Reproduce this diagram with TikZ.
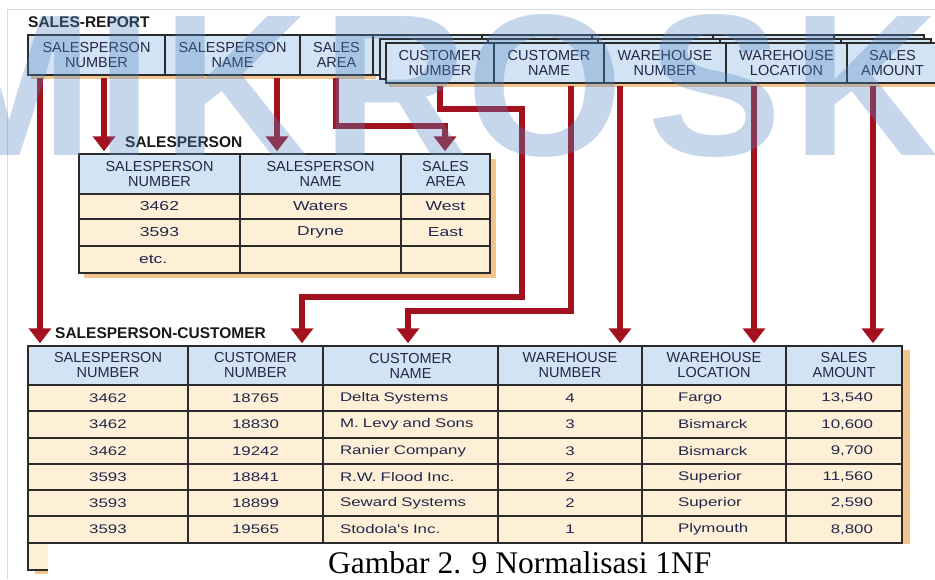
\documentclass[tikz,border=0pt]{standalone}
\usepackage{fontspec}
\setmainfont{Liberation Sans}
\newfontfamily\capfont{Liberation Serif}
\newfontfamily\datafont[FakeStretch=1.35]{Liberation Sans}
\usetikzlibrary{arrows.meta}

\definecolor{hblue}{HTML}{D2E3F4}
\definecolor{rowtan}{HTML}{FDF0D6}
\definecolor{shadowc}{HTML}{F2C58C}
\definecolor{gridc}{HTML}{2B2B2B}
\definecolor{inkc}{HTML}{23264A}
\definecolor{redc}{HTML}{A3101E}
\definecolor{markc}{HTML}{5487C3}
\definecolor{framec}{HTML}{DADADA}

% one table cell spanning (x0,y0)--(x1,y1)
\newcommand\tcell[7][]{%
  \node[minimum width={#5-#3}, minimum height={#6-#4}, #1] (#2) at ({(#3+#5)/2},{(#4+#6)/2}) {#7};}

\tikzset{
  cellbase/.style={draw=gridc, line width=1.5pt, inner sep=0pt, align=center, text=inkc},
  hcell/.style={cellbase, fill=hblue, font=\fontsize{14.5}{15}\selectfont},
  dcell/.style={cellbase, fill=rowtan, font=\datafont\fontsize{13}{15}\selectfont},
  bcell/.style={cellbase, fill=rowtan, font=\datafont\fontsize{12.5}{15}\selectfont},
  padl/.style 2 args={inner xsep=#1, text width=#2, align=left},
  padr/.style 2 args={inner xsep=#1, text width=#2, align=right},
  ttl/.style={anchor=base west, inner sep=0pt, font=\bfseries\fontsize{15.5}{16}\selectfont, text=black!90},
  link/.style={draw=redc, line width=6.5pt, -{Triangle[width=22pt,length=15pt]}, shorten >=2pt, shorten <=2pt},
  wm/.style={text=markc, text opacity=0.33, inner sep=0pt, anchor=base, font=\bfseries\fontsize{202}{202}\selectfont},
}

\begin{document}
\begin{tikzpicture}[x=1pt, y=-1pt]
\useasboundingbox (0,0) rectangle (935,579);
\clip (0,0) rectangle (935,579);
\fill[white] (0,0) rectangle (935,579);
\draw[framec, line width=1pt] (7.5,579) -- (7.5,9.5) -- (935,9.5);

% ---------- SALES-REPORT ----------
\node[ttl] (tSR) at (28,27) {SALES-REPORT};
\fill[shadowc] (31,38) rectangle (376,78.5);
\fill[shadowc] (389,46) rectangle (941,87);
\tcell[hcell]{srNum}{28}{35}{165}{75}{SALESPERSON\\NUMBER}
\tcell[hcell]{srName}{165}{35}{300}{75}{SALESPERSON\\NAME}
\tcell[hcell]{srArea}{300}{35}{373}{75}{SALES\\AREA}
% repeating group, stacked pages
\tcell[hcell]{bk1}{373}{35}{482}{75}{}
\tcell[hcell]{bk2}{482}{35}{592}{75}{}
\tcell[hcell]{bk3}{592}{35}{713}{75}{}
\tcell[hcell]{bk4}{713}{35}{834}{75}{}
\tcell[hcell]{bk5}{834}{35}{924}{75}{}
\tcell[hcell]{md1}{380}{39}{488}{79}{}
\tcell[hcell]{md2}{488}{39}{598}{79}{}
\tcell[hcell]{md3}{598}{39}{720}{79}{}
\tcell[hcell]{md4}{720}{39}{841}{79}{}
\tcell[hcell]{md5}{841}{39}{931}{79}{}
\tcell[hcell]{fCNum}{386}{43}{494}{83}{CUSTOMER\\NUMBER}
\tcell[hcell]{fCName}{494}{43}{604}{83}{CUSTOMER\\NAME}
\tcell[hcell]{fWNum}{604}{43}{726}{83}{WAREHOUSE\\NUMBER}
\tcell[hcell]{fWLoc}{726}{43}{847}{83}{WAREHOUSE\\LOCATION}
\tcell[hcell]{fSAmt}{847}{43}{938}{83}{SALES\\AMOUNT}

% ---------- SALESPERSON ----------
\node[ttl] (tSP) at (125,147) {SALESPERSON};
\fill[shadowc] (84,159) rectangle (495.5,278);
\tcell[hcell]{spNum}{79}{154}{240}{194}{SALESPERSON\\NUMBER}
\tcell[hcell]{spName}{240}{154}{401}{194}{SALESPERSON\\NAME}
\tcell[hcell]{spArea}{401}{154}{490}{194}{SALES\\AREA}
\tcell[dcell]{sp1a}{79}{194}{240}{219}{3462}
\tcell[dcell]{sp1b}{240}{194}{401}{219}{Waters}
\tcell[dcell]{sp1c}{401}{194}{490}{219}{West}
\tcell[dcell]{sp2a}{79}{219}{240}{246}{3593}
\tcell[dcell]{sp2b}{240}{219}{401}{246}{Dryne}
\tcell[dcell]{sp2c}{401}{219}{490}{246}{East}
\tcell[dcell, padl={60pt}{41pt}]{sp3a}{79}{246}{240}{273}{etc.}
\tcell[dcell]{sp3b}{240}{246}{401}{273}{}
\tcell[dcell]{sp3c}{401}{246}{490}{273}{}

% ---------- SALESPERSON-CUSTOMER ----------
\node[ttl] (tSC) at (55,338) {SALESPERSON-CUSTOMER};
\fill[shadowc] (35,350) rectangle (909.5,574);
\tcell[hcell]{scSp}{28}{346}{188}{385}{SALESPERSON\\NUMBER}
\tcell[hcell]{scCNum}{188}{346}{323}{385}{CUSTOMER\\NUMBER}
\tcell[hcell]{scCName}{323}{346}{498}{385}{CUSTOMER\\NAME}
\tcell[hcell]{scWNum}{498}{346}{642}{385}{WAREHOUSE\\NUMBER}
\tcell[hcell]{scWLoc}{642}{346}{786}{385}{WAREHOUSE\\LOCATION}
\tcell[hcell]{scSAmt}{786}{346}{902}{385}{SALES\\AMOUNT}
\foreach \i/\ya/\yb/\ca/\cb/\cc/\cd/\ce/\cf in {
    1/385/411/3462/18765/Delta Systems/4/Fargo/{13,540},
    2/411/438/3462/18830/M. Levy and Sons/3/Bismarck/{10,600},
    3/438/464/3462/19242/Ranier Company/3/Bismarck/{9,700},
    4/464/490/3593/18841/R.W. Flood Inc./2/Superior/{11,560},
    5/490/516/3593/18899/Seward Systems/2/Superior/{2,590},
    6/516/543/3593/19565/Stodola's Inc./1/Plymouth/{8,800},
    7/543/570/ / / / / / } {
  \tcell[bcell]{sc\i a}{28}{\ya}{188}{\yb}{\ca}
  \tcell[bcell]{sc\i b}{188}{\ya}{323}{\yb}{\cb}
  \tcell[bcell, padl={17pt}{141pt}]{sc\i c}{323}{\ya}{498}{\yb}{\cc}
  \tcell[bcell]{sc\i d}{498}{\ya}{642}{\yb}{\cd}
  \tcell[bcell, padl={36pt}{72pt}]{sc\i e}{642}{\ya}{786}{\yb}{\ce}
  \tcell[bcell, padr={29pt}{58pt}]{sc\i f}{786}{\ya}{902}{\yb}{\cf}
}

% ---------- dependency arrows ----------
\coordinate (la) at (40,0);
\coordinate (lb) at (104,0);
\coordinate (lc) at (277,0);
\coordinate (d1) at (336,126);
\coordinate (d2) at (445,126);
\coordinate (e1) at (440,109);
\coordinate (e2) at (522,109);
\coordinate (e3) at (522,297);
\coordinate (e4) at (302,297);
\coordinate (f1) at (571,311);
\coordinate (f2) at (408,311);
\coordinate (lg) at (620,0);
\coordinate (lh) at (754,0);
\coordinate (li) at (873,0);

\draw[link] (srNum.south -| la) -- (scSp.north -| la);
\draw[link] (srNum.south -| lb) -- (spNum.north -| lb);
\draw[link] (srName.south -| lc) -- (spName.north -| lc);
\draw[link] (srArea.south -| d1) -- (d1) -- (d2) -- (spArea.north -| d2);
\draw[link] (fCNum.south -| e1) -- (e1) -- (e2) -- (e3) -- (e4) -- (scCNum.north -| e4);
\draw[link] (fCName.south -| f1) -- (f1) -- (f2) -- (scCName.north -| f2);
\draw[link] (fWNum.south -| lg) -- (scWNum.north -| lg);
\draw[link] (fWLoc.south -| lh) -- (scWLoc.north -| lh);
\draw[link] (fSAmt.south -| li) -- (scSAmt.north -| li);

% ---------- watermark ----------
\node[wm] (wM) at (10,155) {M};
\node[wm] (wI) at (125,155) {I};
\node[wm] (wK) at (235,155) {K};
\node[wm] (wR) at (395,155) {R};
\node[wm] (wO) at (545,155) {O};
\node[wm] (wS) at (715,155) {S};
\node[wm] (wK2) at (865,155) {K};

% ---------- caption ----------
\fill[white] (48,544.2) rectangle (935,579);
\node[anchor=base west, inner sep=0pt, font=\capfont\fontsize{31.5}{32}\selectfont] (cap) at (328,573) {Gambar 2. 9 Normalisasi 1NF};
\end{tikzpicture}
\end{document}
